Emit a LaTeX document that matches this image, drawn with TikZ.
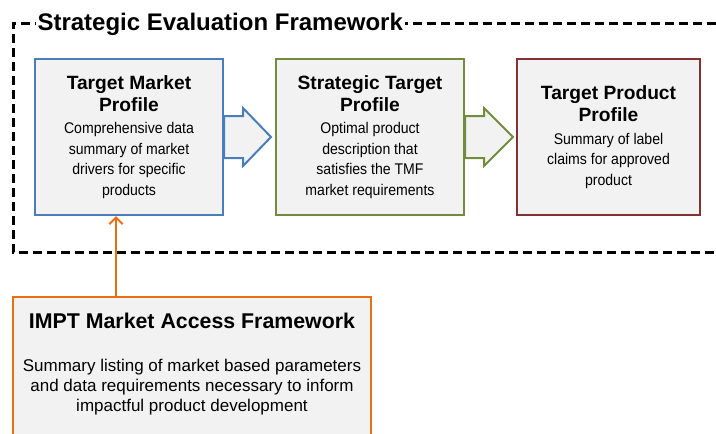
\documentclass[tikz,border=0pt]{standalone}
\usepackage{fontspec}
\setmainfont{Liberation Sans}
\newfontfamily\boxbodyfont[FakeStretch=0.91]{Liberation Sans}
\usetikzlibrary{arrows.meta,positioning}

\definecolor{tmfblue}{RGB}{74,126,187}
\definecolor{stpgreen}{RGB}{113,140,60}
\definecolor{tppred}{RGB}{130,50,50}
\definecolor{imptorange}{RGB}{232,112,20}
\definecolor{panelgray}{RGB}{242,242,242}

\newcommand{\boxhead}[1]{{\fontsize{14.4}{16.3}\selectfont\rmfamily\bfseries #1}}

\tikzset{every picture/.style={line width=0.75pt}}
\tikzset{
  profile/.style={draw, fill=panelgray, line width=1.5pt, inner sep=0pt, align=center,
    minimum height=117pt, font=\boxbodyfont\fontsize{11.6}{15.4}\selectfont},
  blockarrow/.style={fill=panelgray, line width=1.5pt, line join=miter},
}

\begin{document}
\begin{tikzpicture}[x=0.75pt,y=0.75pt,yscale=-1,xscale=1]
\path[use as bounding box] (0,0) rectangle (716,433);
\clip (0,0) rectangle (716,433);

%Dashed frame, open on the right
\draw [line width=2.25pt, dash pattern=on 6.75pt off 3.75pt] (730,23) -- (13,23) -- (13,252) -- (730,252);
% Text Node
\node (sef) [anchor=base west, fill=white, inner sep=1.5pt, font=\fontsize{18}{21}\selectfont\bfseries] at (35,30) {Strategic Evaluation Framework};

%Shape: Rectangle
\node (tmf) [profile, draw=tmfblue, minimum width=141pt] at (129,137) {\boxhead{Target Market}\\[1.2pt] \boxhead{Profile}\\[1.5pt] Comprehensive data\\ summary of market\\ drivers for specific\\ products};
%Shape: Rectangle
\node (stp) [profile, draw=stpgreen, minimum width=141pt] at (370,137) {\boxhead{Strategic Target}\\[1.2pt] \boxhead{Profile}\\[1.5pt] Optimal product\\ description that\\ satisfies the TMF\\ market requirements};
%Shape: Rectangle
\node (tpp) [profile, draw=tppred, minimum width=137.25pt] at (608.5,137) {\boxhead{Target Product}\\[1.2pt] \boxhead{Profile}\\[1.5pt] Summary of label\\ claims for approved\\ product};

%Shape: Right Arrow
\draw [blockarrow, draw=tmfblue] (tmf.east) ++(0,-21) -- ++(19,0) -- ++(0,-8) -- ++(28,29) -- ++(-28,29) -- ++(0,-8) -- ++(-19,0) -- cycle;
%Shape: Right Arrow
\draw [blockarrow, draw=stpgreen] (stp.east) ++(0,-21) -- ++(19,0) -- ++(0,-8) -- ++(29,29) -- ++(-29,29) -- ++(0,-8) -- ++(-19,0) -- cycle;

%Shape: Rectangle
\node (impt) [draw=imptorange, fill=panelgray, line width=1.5pt, minimum width=268.5pt, minimum height=111pt] at (192,371) {};
% Text Node
\node (imptt) [below=12.5pt of impt.north, inner sep=0pt, font=\fontsize{16}{19}\selectfont\bfseries] {IMPT Market Access Framework};
% Text Node
\node (imptb) [below=22pt of imptt, inner sep=0pt, align=center, font=\fontsize{12.75}{15}\selectfont] {Summary listing of market based parameters\\ and data requirements necessary to inform\\ impactful product development};

%Straight Lines
\coordinate (feed) at (116,0);
\draw [imptorange, line width=1.5pt, -{Straight Barb[length=5pt,width=10pt]}] (impt.north -| feed) -- (tmf.south -| feed);

\end{tikzpicture}
\end{document}
